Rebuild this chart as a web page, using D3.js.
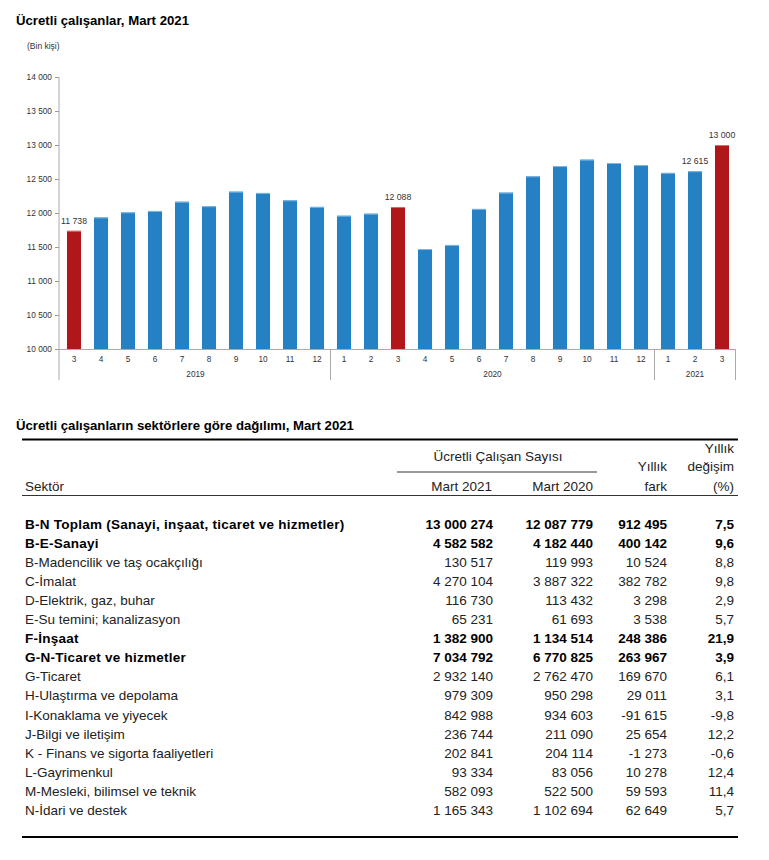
<!DOCTYPE html>
<html><head><meta charset="utf-8">
<script src="https://cdn.jsdelivr.net/npm/d3@7"></script>
<style>body{margin:0;background:#fff;font-family:"Liberation Sans",Arial,sans-serif}</style>
</head><body><svg id="c" width="769" height="860"></svg>
<script>
const months = ["3","4","5","6","7","8","9","10","11","12","1","2","3","4","5","6","7","8","9","10","11","12","1","2","3"];
const years = ["2019","2019","2019","2019","2019","2019","2019","2019","2019","2019","2020","2020","2020","2020","2020","2020","2020","2020","2020","2020","2020","2020","2021","2021","2021"];
const values = [11738,11935,12010,12030,12166,12100,12314,12295,12187,12090,11960,11990,12088,11470,11530,12060,12300,12540,12690,12785,12735,12705,12590,12615,13000];
const labelled = [0,12,23,24];
const yTicks = [10000,10500,11000,11500,12000,12500,13000,13500,14000];

const sectors = ["B-N Toplam (Sanayi, inşaat, ticaret ve hizmetler)","B-E-Sanayi","B-Madencilik ve taş ocakçılığı","C-İmalat","D-Elektrik, gaz, buhar","E-Su temini; kanalizasyon","F-İnşaat","G-N-Ticaret ve hizmetler","G-Ticaret","H-Ulaştırma ve depolama","I-Konaklama ve yiyecek","J-Bilgi ve iletişim","K - Finans ve sigorta faaliyetleri","L-Gayrimenkul","M-Mesleki, bilimsel ve teknik","N-İdari ve destek"];
const mart2021 = [13000274,4582582,130517,4270104,116730,65231,1382900,7034792,2932140,979309,842988,236744,202841,93334,582093,1165343];
const mart2020 = [12087779,4182440,119993,3887322,113432,61693,1134514,6770825,2762470,950298,934603,211090,204114,83056,522500,1102694];
const fark = [912495,400142,10524,382782,3298,3538,248386,263967,169670,29011,-91615,25654,-1273,10278,59593,62649];
const degisim = [7.5,9.6,8.8,9.8,2.9,5.7,21.9,3.9,6.1,3.1,-9.8,12.2,-0.6,12.4,11.4,5.7];
const boldRows = [true,true,false,false,false,false,true,true,false,false,false,false,false,false,false,false];

const svg = d3.select("#c");
const fmt = d => d3.format(",")(d).replace(/,/g, " ").replace("\u2212", "-");
const fmtDec = d => d3.format(".1f")(d).replace(".", ",").replace("\u2212", "-");

// Chart title
svg.append("text").attr("x",16).attr("y",25).attr("font-size",13.2).attr("font-weight","bold").attr("fill","#000").text("Ücretli çalışanlar, Mart 2021");
svg.append("text").attr("x",27).attr("y",49).attr("font-size",8.5).attr("fill","#333").text("(Bin kişi)");

const x = d3.scaleBand().domain(d3.range(values.length)).range([60.5,735.5]).paddingInner(0.48).paddingOuter(0.24);
const y = d3.scaleLinear().domain([10000,14000]).range([349,77]);

// bars
svg.append("g").selectAll("rect").data(values).join("rect")
  .attr("x",(d,i)=>x(i)).attr("width",x.bandwidth())
  .attr("y",d=>y(d)).attr("height",d=>y(10000)-y(d))
  .attr("fill",(d,i)=>months[i]==="3"?"#b0171b":"#2680c4");
svg.append("g").selectAll("line").data(values).join("line")
  .attr("x1",(d,i)=>x(i)).attr("x2",(d,i)=>x(i)+x.bandwidth())
  .attr("y1",d=>y(d)+0.5).attr("y2",d=>y(d)+0.5)
  .attr("stroke",(d,i)=>months[i]==="3"?"#d86a6a":"#7fb6e0").attr("stroke-width",1);

// value labels
svg.append("g").selectAll("text").data(labelled).join("text")
  .attr("x",i=>x(i)+x.bandwidth()/2).attr("y",i=>y(values[i])-7)
  .attr("text-anchor","middle").attr("font-size",8.7).attr("fill","#333").text(i=>fmt(values[i]));

// y axis
const ya = svg.append("g").attr("transform","translate(59,0)")
  .call(d3.axisLeft(y).tickValues(yTicks).tickSize(4).tickPadding(3).tickFormat(fmt));
ya.select(".domain").remove();
ya.selectAll(".tick line").attr("stroke","#999");
ya.selectAll(".tick text").attr("font-size",8.3).attr("fill","#333").attr("font-family","Liberation Sans, Arial, sans-serif");
svg.append("line").attr("x1",59).attr("x2",59).attr("y1",77).attr("y2",380).attr("stroke","#aaa");

// x axis
const xa = svg.append("g").attr("transform","translate(0,349)")
  .call(d3.axisBottom(x).tickSize(0).tickPadding(7).tickFormat(i=>months[i]));
xa.select(".domain").attr("stroke","#aaa").attr("d","M59,0.5H735.5");
xa.selectAll(".tick text").attr("font-size",8.3).attr("fill","#333").attr("font-family","Liberation Sans, Arial, sans-serif");

// year groups
const groups = d3.groups(d3.range(values.length), i=>years[i]);
const step = x.step();
groups.forEach(([yr, idx]) => {
  const left = 60.5 + idx[0]*step;
  const right = 60.5 + (idx[idx.length-1]+1)*step;
  svg.append("text").attr("x",(left+right)/2).attr("y",377).attr("text-anchor","middle")
    .attr("font-size",8.3).attr("fill","#333").text(yr);
  svg.append("line").attr("x1",right).attr("x2",right).attr("y1",349).attr("y2",380).attr("stroke","#aaa");
});

// Table
svg.append("text").attr("x",16).attr("y",430).attr("font-size",13.2).attr("font-weight","bold").attr("fill","#000").text("Ücretli çalışanların sektörlere göre dağılımı, Mart 2021");
svg.append("line").attr("x1",22).attr("x2",738).attr("y1",439.5).attr("y2",439.5).attr("stroke","#000").attr("stroke-width",2);
const hdr = svg.append("g").attr("font-size",13.5).attr("fill","#222");
hdr.append("text").attr("x",498).attr("y",461).attr("text-anchor","middle").text("Ücretli Çalışan Sayısı");
svg.append("line").attr("x1",397).attr("x2",597).attr("y1",472).attr("y2",472).attr("stroke","#333").attr("stroke-width",1);
hdr.append("text").attr("x",25).attr("y",491).text("Sektör");
hdr.append("text").attr("x",492).attr("y",491).attr("text-anchor","end").text("Mart 2021");
hdr.append("text").attr("x",593).attr("y",491).attr("text-anchor","end").text("Mart 2020");
hdr.append("text").attr("x",667).attr("y",471).attr("text-anchor","end").text("Yıllık");
hdr.append("text").attr("x",667).attr("y",491).attr("text-anchor","end").text("fark");
hdr.append("text").attr("x",734).attr("y",453).attr("text-anchor","end").text("Yıllık");
hdr.append("text").attr("x",734).attr("y",471).attr("text-anchor","end").text("değişim");
hdr.append("text").attr("x",734).attr("y",491).attr("text-anchor","end").text("(%)");
svg.append("line").attr("x1",22).attr("x2",738).attr("y1",495.5).attr("y2",495.5).attr("stroke","#333").attr("stroke-width",1);

const rowY = d3.scaleLinear().domain([0,15]).range([528.5,815]);
const rows = svg.append("g").selectAll("g").data(sectors).join("g")
  .attr("transform",(d,i)=>`translate(0,${rowY(i)})`)
  .attr("font-size",13.5)
  .attr("font-weight",(d,i)=>boldRows[i]?"bold":"normal")
  .attr("fill",(d,i)=>boldRows[i]?"#000":"#222");
rows.append("text").attr("x",25).attr("letter-spacing",(d,i)=>boldRows[i]?0.25:0).text(d=>d);
rows.append("text").attr("x",493).attr("text-anchor","end").text((d,i)=>fmt(mart2021[i]));
rows.append("text").attr("x",593).attr("text-anchor","end").text((d,i)=>fmt(mart2020[i]));
rows.append("text").attr("x",667).attr("text-anchor","end").text((d,i)=>fmt(fark[i]));
rows.append("text").attr("x",734).attr("text-anchor","end").text((d,i)=>fmtDec(degisim[i]));
svg.append("line").attr("x1",22).attr("x2",738).attr("y1",837).attr("y2",837).attr("stroke","#000").attr("stroke-width",2);
</script></body></html>
